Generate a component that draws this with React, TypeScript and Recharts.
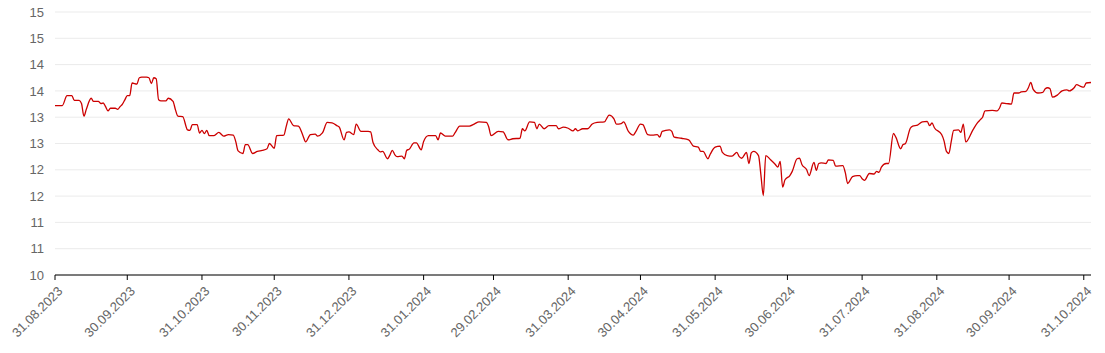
import React from 'react';
import { LineChart, Line, XAxis, YAxis, CartesianGrid } from 'recharts';

const dates: string[] = [
  '2023-08-31','2023-09-03','2023-09-05','2023-09-07','2023-09-08','2023-09-10','2023-09-11','2023-09-12','2023-09-13','2023-09-15',
  '2023-09-16','2023-09-18','2023-09-19','2023-09-20','2023-09-21','2023-09-22','2023-09-23','2023-09-25','2023-09-26','2023-09-27',
  '2023-09-28','2023-09-29','2023-09-30','2023-10-01','2023-10-02','2023-10-04','2023-10-05','2023-10-06','2023-10-08','2023-10-09',
  '2023-10-10','2023-10-11','2023-10-12','2023-10-13','2023-10-14','2023-10-16','2023-10-17','2023-10-19','2023-10-20','2023-10-21',
  '2023-10-23','2023-10-25','2023-10-26','2023-10-27','2023-10-29','2023-10-30','2023-10-31','2023-11-01','2023-11-02','2023-11-03',
  '2023-11-05','2023-11-07','2023-11-09','2023-11-11','2023-11-13','2023-11-14','2023-11-15','2023-11-17','2023-11-18','2023-11-19',
  '2023-11-21','2023-11-23','2023-11-25','2023-11-27','2023-11-28','2023-11-30','2023-12-01','2023-12-04','2023-12-05','2023-12-06',
  '2023-12-08','2023-12-10','2023-12-12','2023-12-13','2023-12-15','2023-12-17','2023-12-18','2023-12-20','2023-12-22','2023-12-24',
  '2023-12-26','2023-12-27','2023-12-29','2023-12-30','2023-12-31','2024-01-02','2024-01-03','2024-01-05','2024-01-08','2024-01-09',
  '2024-01-10','2024-01-12','2024-01-13','2024-01-14','2024-01-16','2024-01-17','2024-01-18','2024-01-19','2024-01-20','2024-01-22',
  '2024-01-23','2024-01-24','2024-01-25','2024-01-27','2024-01-28','2024-01-30','2024-01-31','2024-02-02','2024-02-03','2024-02-05',
  '2024-02-06','2024-02-07','2024-02-09','2024-02-12','2024-02-13','2024-02-15','2024-02-19','2024-02-21','2024-02-23','2024-02-26',
  '2024-02-27','2024-02-28','2024-03-02','2024-03-04','2024-03-06','2024-03-08','2024-03-11','2024-03-12','2024-03-13','2024-03-15',
  '2024-03-17','2024-03-18','2024-03-19','2024-03-21','2024-03-23','2024-03-26','2024-03-27','2024-03-29','2024-03-31','2024-04-02',
  '2024-04-03','2024-04-04','2024-04-06','2024-04-08','2024-04-10','2024-04-12','2024-04-15','2024-04-17','2024-04-19','2024-04-20',
  '2024-04-22','2024-04-23','2024-04-25','2024-04-27','2024-04-28','2024-04-30','2024-05-01','2024-05-03','2024-05-05','2024-05-07',
  '2024-05-08','2024-05-09','2024-05-12','2024-05-13','2024-05-14','2024-05-17','2024-05-20','2024-05-22','2024-05-24','2024-05-25',
  '2024-05-26','2024-05-28','2024-05-29','2024-05-31','2024-06-02','2024-06-03','2024-06-05','2024-06-07','2024-06-09','2024-06-10',
  '2024-06-11','2024-06-13','2024-06-14','2024-06-15','2024-06-16','2024-06-18','2024-06-19','2024-06-20','2024-06-21','2024-06-23',
  '2024-06-25','2024-06-26','2024-06-27','2024-06-28','2024-06-29','2024-07-01','2024-07-02','2024-07-04','2024-07-05','2024-07-06',
  '2024-07-08','2024-07-09','2024-07-11','2024-07-12','2024-07-13','2024-07-14','2024-07-16','2024-07-17','2024-07-19','2024-07-20',
  '2024-07-23','2024-07-24','2024-07-25','2024-07-27','2024-07-29','2024-07-30','2024-07-31','2024-08-01','2024-08-03','2024-08-05',
  '2024-08-06','2024-08-07','2024-08-08','2024-08-10','2024-08-11','2024-08-13','2024-08-14','2024-08-16','2024-08-17','2024-08-18',
  '2024-08-20','2024-08-21','2024-08-23','2024-08-25','2024-08-27','2024-08-28','2024-08-29','2024-08-30','2024-09-02','2024-09-03',
  '2024-09-04','2024-09-05','2024-09-06','2024-09-07','2024-09-09','2024-09-10','2024-09-11','2024-09-12','2024-09-15','2024-09-17',
  '2024-09-18','2024-09-19','2024-09-20','2024-09-23','2024-09-25','2024-09-26','2024-09-27','2024-09-29','2024-10-01','2024-10-02',
  '2024-10-04','2024-10-05','2024-10-07','2024-10-08','2024-10-09','2024-10-10','2024-10-12','2024-10-14','2024-10-15','2024-10-16',
  '2024-10-17','2024-10-18','2024-10-20','2024-10-22','2024-10-24','2024-10-25','2024-10-27','2024-10-28','2024-10-30','2024-10-31',
  '2024-11-01','2024-11-03',
];

const values: number[] = [
  13.22,13.22,13.41,13.41,13.32,13.32,13.26,13.02,13.15,13.36,
  13.30,13.30,13.26,13.27,13.20,13.12,13.17,13.17,13.15,13.20,
  13.25,13.33,13.41,13.41,13.65,13.63,13.75,13.76,13.76,13.75,
  13.64,13.75,13.73,13.33,13.31,13.31,13.36,13.30,13.14,13.02,
  13.01,12.76,12.75,12.86,12.86,12.70,12.75,12.69,12.75,12.65,
  12.65,12.71,12.64,12.67,12.66,12.54,12.36,12.31,12.48,12.48,
  12.31,12.35,12.37,12.40,12.50,12.41,12.65,12.66,12.83,12.97,
  12.84,12.83,12.64,12.53,12.67,12.68,12.64,12.70,12.90,12.89,
  12.84,12.81,12.57,12.71,12.72,12.67,12.87,12.73,12.73,12.72,
  12.52,12.38,12.34,12.35,12.21,12.28,12.37,12.29,12.25,12.26,
  12.21,12.37,12.39,12.51,12.51,12.38,12.54,12.65,12.65,12.65,
  12.57,12.70,12.64,12.64,12.70,12.83,12.83,12.87,12.91,12.90,
  12.82,12.65,12.73,12.72,12.57,12.59,12.60,12.78,12.74,12.91,
  12.90,12.78,12.87,12.78,12.84,12.84,12.78,12.81,12.79,12.74,
  12.78,12.74,12.78,12.78,12.87,12.90,12.91,13.04,12.97,12.87,
  12.88,12.91,12.73,12.66,12.72,12.87,12.86,12.67,12.66,12.67,
  12.62,12.73,12.76,12.73,12.62,12.60,12.57,12.45,12.43,12.35,
  12.35,12.21,12.30,12.43,12.45,12.33,12.27,12.26,12.33,12.25,
  12.22,12.33,12.12,12.32,12.35,12.27,11.90,11.51,12.27,12.19,
  12.10,12.05,12.16,11.67,11.81,11.89,11.97,12.21,12.22,12.10,
  12.00,11.89,12.14,11.99,12.12,12.13,12.12,12.19,12.18,12.07,
  12.08,11.95,11.74,11.87,11.89,11.89,11.83,11.80,11.93,11.92,
  11.97,11.95,12.05,12.12,12.12,12.69,12.62,12.40,12.48,12.50,
  12.79,12.83,12.85,12.91,12.92,12.84,12.89,12.80,12.67,12.55,
  12.35,12.31,12.54,12.75,12.76,12.71,12.87,12.53,12.76,12.90,
  12.95,13.00,13.12,13.13,13.12,13.17,13.27,13.26,13.25,13.46,
  13.46,13.48,13.49,13.56,13.66,13.53,13.46,13.47,13.54,13.56,
  13.54,13.38,13.42,13.50,13.52,13.50,13.56,13.62,13.58,13.57,
  13.65,13.66,
];

const xTickDates: string[] = [
  '2023-08-31','2023-09-30','2023-10-31','2023-11-30','2023-12-31','2024-01-31','2024-02-29',
  '2024-03-31','2024-04-30','2024-05-31','2024-06-30','2024-07-31','2024-08-31','2024-09-30','2024-10-31',
];

const yTicks: number[] = [10, 10.5, 11, 11.5, 12, 12.5, 13, 13.5, 14, 14.5, 15];

const toTs = (s: string) => {
  const [y, m, d] = s.split('-').map(Number);
  return Date.UTC(y, m - 1, d);
};

const data = dates.map((d, i) => ({ t: toTs(d), v: values[i] }));
const xTicks = xTickDates.map(toTs);

const pad = (n: number) => String(n).padStart(2, '0');
const fmtDate = (ts: number) => {
  const d = new Date(ts);
  return `${pad(d.getUTCDate())}.${pad(d.getUTCMonth() + 1)}.${d.getUTCFullYear()}`;
};

const FONT = '"Liberation Sans", Arial, sans-serif';

const XTick = (props: any) => {
  const { x, y, payload } = props;
  return (
    <g transform={`translate(${x},${y})`}>
      <text
        x={0}
        y={0}
        dy={13}
        dx={-1}
        transform="rotate(-45)"
        textAnchor="end"
        fill="#666"
        fontSize={13}
        fontFamily={FONT}
      >
        {fmtDate(payload.value)}
      </text>
    </g>
  );
};

export default function App() {
  return (
    <div style={{ position: 'absolute', left: 0, top: 0, background: '#fff' }}>
      <LineChart
        width={1105}
        height={353}
        data={data}
        margin={{ top: 12, right: 14, bottom: 8, left: 5 }}
      >
        <CartesianGrid vertical={false} stroke="#ebebeb" />
        <XAxis
          dataKey="t"
          type="number"
          domain={['dataMin', 'dataMax']}
          ticks={xTicks}
          interval={0}
          height={70}
          tickSize={5}
          tickLine={{ stroke: '#000' }}
          axisLine={{ stroke: '#000' }}
          tick={<XTick />}
        />
        <YAxis
          domain={[10, 15]}
          ticks={yTicks}
          interval={0}
          width={50}
          axisLine={false}
          tickLine={false}
          tickSize={6}
          tickMargin={5}
          tickFormatter={(v: number) => String(Math.round(v))}
          tick={{ fill: '#666', fontSize: 13, fontFamily: FONT }}
        />
        <Line
          type="monotone"
          dataKey="v"
          stroke="#cc0000"
          strokeWidth={1.3}
          dot={false}
          isAnimationActive={false}
        />
      </LineChart>
    </div>
  );
}
